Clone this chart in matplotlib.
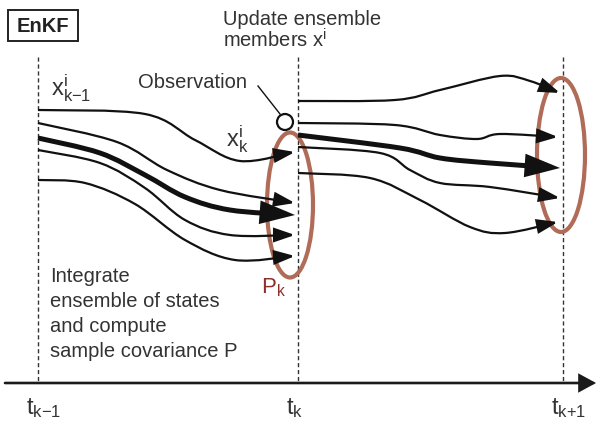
import matplotlib
matplotlib.use('Agg')
import matplotlib.pyplot as plt
from matplotlib.path import Path
from matplotlib.patches import FancyArrowPatch, Ellipse, Circle, Rectangle

plt.rcParams['font.family'] = ['Liberation Sans', 'DejaVu Sans']
plt.rcParams['mathtext.fontset'] = 'custom'
plt.rcParams['mathtext.rm'] = 'Liberation Sans'
plt.rcParams['mathtext.it'] = 'Liberation Sans'
plt.rcParams['mathtext.sf'] = 'Liberation Sans'

# ---- data (diagram coordinates in pixel-like units) ----
time_x = [38, 298, 563]
time_labels = [r'$\mathrm{t}_{\text{k−1}}$', r'$\mathrm{t}_{\text{k}}$', r'$\mathrm{t}_{\text{k+1}}$']

# ensemble member trajectories t_{k-1} -> t_k
left_members = [
    [(38, 110), (145, 114), (195, 140), (240, 161), (295, 152)],
    [(38, 123), (117, 142), (167, 170), (220, 190), (295, 203)],
    [(38, 138), (100, 153), (145, 175), (185, 197), (230, 210), (295, 215)],
    [(38, 150), (100, 163), (145, 188), (185, 220), (230, 235), (295, 235)],
    [(38, 180), (85, 183), (135, 204), (185, 240), (235, 260), (295, 256)],
]
# updated members t_k -> t_{k+1}
right_members = [
    [(298, 101), (395, 100), (440, 90), (500, 76), (530, 81), (560, 93)],
    [(298, 123), (395, 125), (440, 135), (477, 139), (500, 134), (558, 137)],
    [(298, 135), (400, 148), (440, 158), (490, 163), (560, 168)],
    [(298, 147), (380, 153), (410, 170), (440, 183), (490, 187), (560, 198)],
    [(298, 173), (370, 178), (420, 200), (470, 227), (505, 233), (558, 222)],
]
mean_member = 2  # thick line = ensemble mean

# covariance ellipses (center, width, height)
cov_ellipses = [((290, 205), 46, 145), ((561, 155), 48, 154)]
observation = (285, 122)

TEXT = '#333333'
BROWN = '#b06c58'
PRED = '#8e2f2b'


def catmull_path(pts):
    verts = [pts[0]]
    codes = [Path.MOVETO]
    n = len(pts)
    for i in range(n - 1):
        p0 = pts[i - 1] if i > 0 else pts[i]
        p1 = pts[i]
        p2 = pts[i + 1]
        p3 = pts[i + 2] if i + 2 < n else pts[i + 1]
        c1 = (p1[0] + (p2[0] - p0[0]) / 6, p1[1] + (p2[1] - p0[1]) / 6)
        c2 = (p2[0] - (p3[0] - p1[0]) / 6, p2[1] - (p3[1] - p1[1]) / 6)
        verts += [c1, c2, p2]
        codes += [Path.CURVE4] * 3
    return Path(verts, codes)


fig = plt.figure(figsize=(5.96, 4.23), dpi=100)
ax = fig.add_axes([0, 0, 1, 1])
ax.set_xlim(0, 596)
ax.set_ylim(423, 0)
ax.axis('off')

# dashed time lines
for x in time_x:
    ax.plot([x, x], [57, 383], color='#333333', lw=1.0, ls=(0, (3, 2)), zorder=1)

# time axis
ax.add_patch(FancyArrowPatch((5, 383), (596, 383), arrowstyle='-|>,head_length=0.55,head_width=0.3',
                             mutation_scale=18, lw=1.9, color='#1a1a1a', joinstyle='miter',
                             shrinkA=0, shrinkB=0, zorder=3))
for x, lab in zip(time_x, time_labels):
    ax.text(x - 12, 396, lab, fontsize=17, color=TEXT, ha='left', va='top')

# ellipses
for (c, w, h) in cov_ellipses:
    ax.add_patch(Ellipse(c, w, h, fill=False, ec=BROWN, lw=3.0, zorder=2))

# trajectories
for group in (left_members, right_members):
    for j, pts in enumerate(group):
        thick = (j == mean_member)
        style = ('-|>,head_length=0.9,head_width=0.3' if thick
                 else '-|>,head_length=0.7,head_width=0.24')
        ax.add_patch(FancyArrowPatch(path=catmull_path(pts), arrowstyle=style,
                                     mutation_scale=20 if thick else 18,
                                     lw=3.6 if thick else 1.6, color='#111111',
                                     joinstyle='miter', capstyle='butt', zorder=4))

# observation
ax.plot([258, 280], [86, 114], color='#111111', lw=1.0, zorder=4)
ax.add_patch(Circle(observation, 8, fc='white', ec='#111111', lw=1.6, zorder=5))

# texts
ax.add_patch(Rectangle((8, 10), 70, 31, fill=False, ec='#222222', lw=1.4, zorder=5))
ax.text(43, 26, 'EnKF', fontsize=14.5, fontweight='bold', color='#222222', ha='center', va='center')
ax.text(223, 25, 'Update ensemble', fontsize=14.5, color=TEXT, ha='left', va='baseline')
ax.text(223, 48, r'members x$^{\text{i}}$', fontsize=14.5, color=TEXT, ha='left', va='baseline')
ax.text(138, 88, 'Observation', fontsize=14.5, color=TEXT, ha='left', va='baseline')
ax.text(51, 95, r'$\mathrm{x}^{\text{i}}_{\text{k−1}}$', fontsize=17, color=TEXT, ha='left', va='baseline')
ax.text(226, 146, r'$\mathrm{x}^{\text{i}}_{\text{k}}$', fontsize=17, color=TEXT, ha='left', va='baseline')
ax.text(261, 293, r'$\mathrm{P}_{\text{k}}$', fontsize=16, color=PRED, ha='left', va='baseline')
ax.text(50, 282, 'Integrate', fontsize=14.5, color=TEXT, ha='left', va='baseline')
ax.text(50, 307, 'ensemble of states', fontsize=14.5, color=TEXT, ha='left', va='baseline')
ax.text(50, 332, 'and compute', fontsize=14.5, color=TEXT, ha='left', va='baseline')
ax.text(50, 357, 'sample covariance P', fontsize=14.5, color=TEXT, ha='left', va='baseline')

fig.savefig('out.png', dpi=100)
